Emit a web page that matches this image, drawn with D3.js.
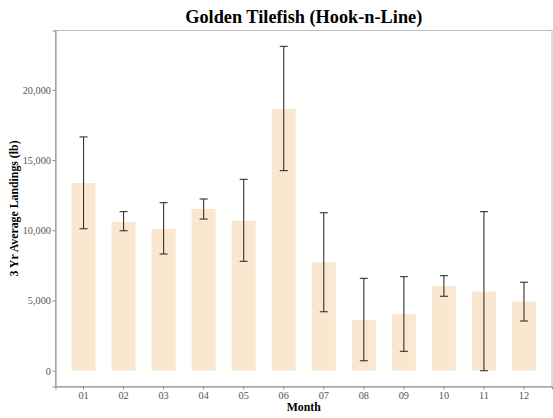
<!DOCTYPE html>
<html>
<head>
<meta charset="utf-8">
<script src="https://cdn.jsdelivr.net/npm/d3@7"></script>
<style>
  body { margin: 0; background: #fff; }
  svg { display: block; }
</style>
</head>
<body>
<div id="chart"></div>
<script>
// data
var months = ['01', '02', '03', '04', '05', '06', '07', '08', '09', '10', '11', '12'];
var landings = [13370, 10610, 10090, 11520, 10680, 18640, 7720, 3610, 4040, 6030, 5630, 4920];
var errLow = [10110, 9970, 8310, 10800, 7790, 14250, 4200, 710, 1380, 5300, 0, 3540];
var errHigh = [16650, 11330, 11970, 12230, 13630, 23100, 11250, 6580, 6700, 6770, 11330, 6300];
var yTicks = [0, 5000, 10000, 15000, 20000];

var width = 553, height = 418;
var margin = {top: 30.5, right: 1, bottom: 31.5, left: 55.5};
var font = '"Liberation Serif", "Times New Roman", Times, serif';

var svg = d3.select('#chart').append('svg')
  .attr('width', width)
  .attr('height', height);

var x = d3.scaleBand()
  .domain(months)
  .range([margin.left, width - margin.right])
  .paddingInner(0.4)
  .paddingOuter(0.4);

// zero sits near 370.7, 5000 lb = 70.2 px
var y = d3.scaleLinear()
  .domain([-1125, 24230])
  .range([height - margin.bottom, margin.top]);

// panel border
svg.append('rect')
  .attr('x', margin.left)
  .attr('y', margin.top)
  .attr('width', width - margin.right - margin.left)
  .attr('height', height - margin.bottom - margin.top)
  .attr('fill', 'none')
  .attr('stroke', '#bdbdbd')
  .attr('stroke-width', 1);

// bars
svg.selectAll('rect.bar')
  .data(months)
  .enter().append('rect')
  .attr('class', 'bar')
  .attr('x', function(d) { return x(d); })
  .attr('width', x.bandwidth())
  .attr('y', function(d, i) { return y(landings[i]); })
  .attr('height', function(d, i) { return y(0) - y(landings[i]); })
  .attr('fill', '#fae7cf');

// error bars
var capW = 4;
var eb = svg.selectAll('g.err')
  .data(months)
  .enter().append('g')
  .attr('class', 'err')
  .attr('stroke', '#333')
  .attr('stroke-width', 1.1);

eb.append('line')
  .attr('x1', function(d) { return x(d) + x.bandwidth() / 2; })
  .attr('x2', function(d) { return x(d) + x.bandwidth() / 2; })
  .attr('y1', function(d, i) { return y(errLow[i]); })
  .attr('y2', function(d, i) { return y(errHigh[i]); });

[errLow, errHigh].forEach(function(arr) {
  eb.append('line')
    .attr('x1', function(d) { return x(d) + x.bandwidth() / 2 - capW; })
    .attr('x2', function(d) { return x(d) + x.bandwidth() / 2 + capW; })
    .attr('y1', function(d, i) { return y(arr[i]); })
    .attr('y2', function(d, i) { return y(arr[i]); });
});

// axes
var yAxis = svg.append('g')
  .attr('transform', 'translate(' + margin.left + ',0)')
  .call(d3.axisLeft(y).tickValues(yTicks).tickSize(3).tickPadding(1.5).tickFormat(d3.format(',')));

var xAxis = svg.append('g')
  .attr('transform', 'translate(0,' + (height - margin.bottom) + ')')
  .call(d3.axisBottom(x).tickSize(3).tickPadding(2.5));

[yAxis, xAxis].forEach(function(ax) {
  ax.attr('font-family', font).attr('font-size', 10.3);
  ax.select('.domain').attr('stroke', '#8c8c8c').attr('stroke-width', 1);
  ax.selectAll('.tick line').attr('stroke', '#8c8c8c');
  ax.selectAll('.tick text')
    .attr('fill', '#555')
    .style('font-family', font)
    .style('font-size', '10.3px');
});

// titles
svg.append('text')
  .attr('x', (margin.left + width - margin.right) / 2)
  .attr('y', 23)
  .attr('text-anchor', 'middle')
  .style('font-family', font)
  .style('font-weight', 'bold')
  .style('font-size', '18.3px')
  .text('Golden Tilefish (Hook-n-Line)');

svg.append('text')
  .attr('x', (margin.left + width - margin.right) / 2)
  .attr('y', 410.7)
  .attr('text-anchor', 'middle')
  .style('font-family', font)
  .style('font-weight', 'bold')
  .style('font-size', '11.8px')
  .text('Month');

svg.append('text')
  .attr('transform', 'translate(17.5,' + ((margin.top + height - margin.bottom) / 2) + ')rotate(-90)')
  .attr('text-anchor', 'middle')
  .style('font-family', font)
  .style('font-weight', 'bold')
  .style('font-size', '11.8px')
  .text('3 Yr Average Landings (lb)');
</script>
</body>
</html>
